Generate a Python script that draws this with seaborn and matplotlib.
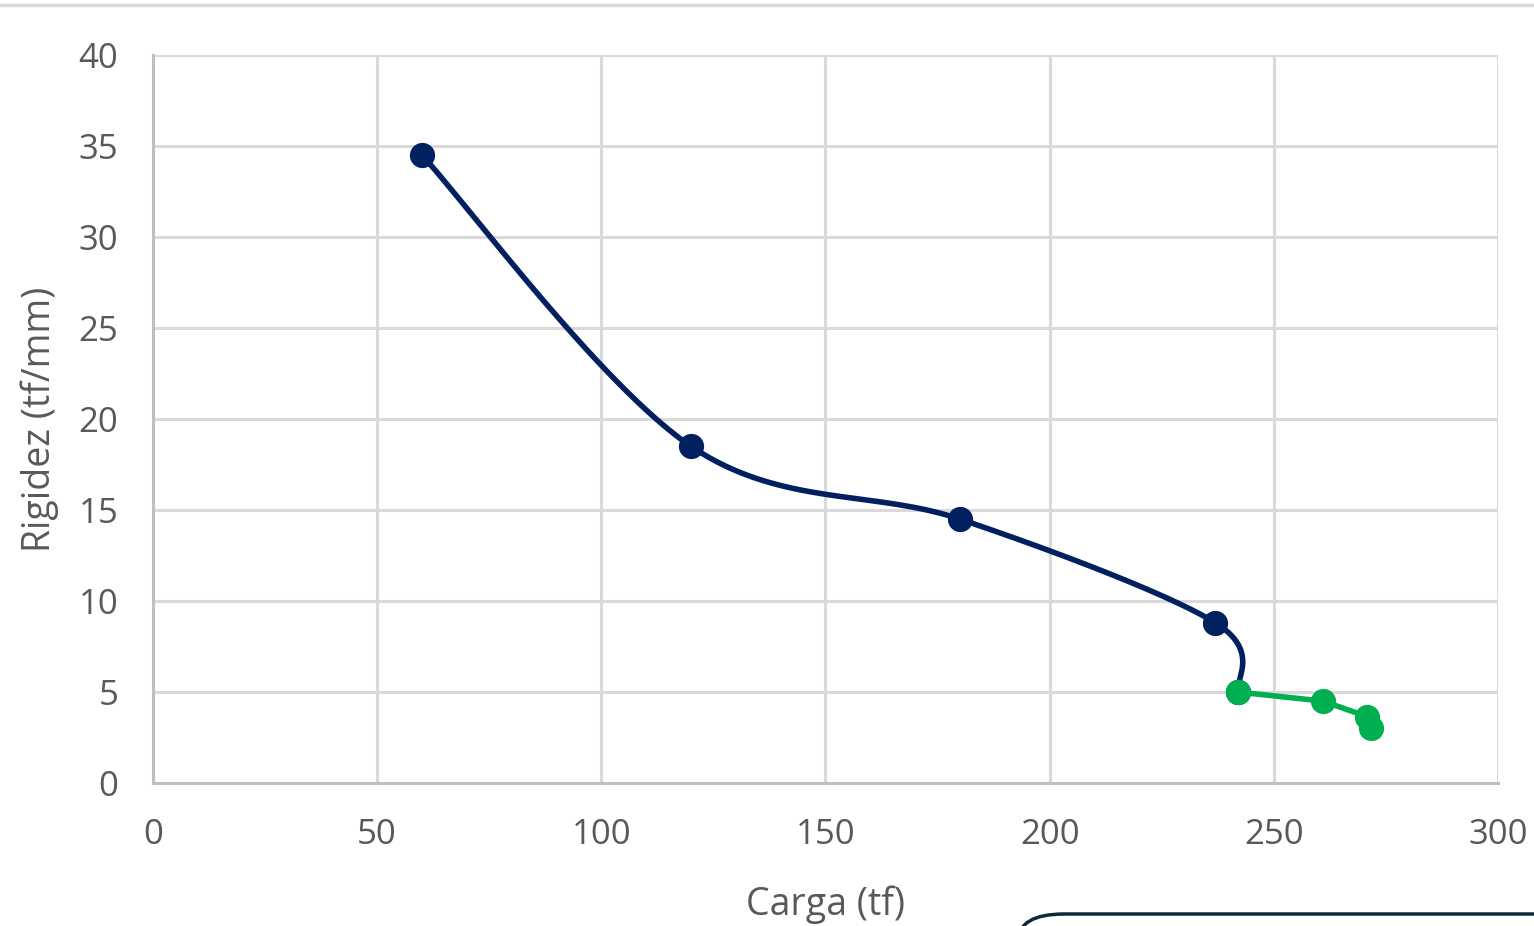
import numpy as np
import pandas as pd
import seaborn as sns
import matplotlib.pyplot as plt
from matplotlib.patches import FancyBboxPatch
from matplotlib.lines import Line2D

# data
carga_azul = [60, 120, 180, 237, 242]
rigidez_azul = [34.5, 18.5, 14.5, 8.8, 5.0]
carga_verde = [242, 261, 270.8, 271.7]
rigidez_verde = [5.0, 4.5, 3.65, 3.05]

x_ticks = [0, 50, 100, 150, 200, 250, 300]
y_ticks = [0, 5, 10, 15, 20, 25, 30, 35, 40]

azul = '#002060'
verde = '#00b050'
cinza = '#595959'


def suavizar(xs, ys, n=60):
    # excel-like smoothed line (bezier with catmull-rom control points)
    p = np.column_stack([xs, ys]).astype(float)
    p = np.vstack([p[0], p, p[-1]])
    out = []
    for i in range(1, len(p) - 2):
        p0, p1, p2, p3 = p[i - 1], p[i], p[i + 1], p[i + 2]
        c1 = p1 + (p2 - p0) / 6
        c2 = p2 - (p3 - p1) / 6
        t = np.linspace(0, 1, n)[:, None]
        seg = ((1 - t) ** 3) * p1 + 3 * ((1 - t) ** 2) * t * c1 + 3 * (1 - t) * t ** 2 * c2 + t ** 3 * p2
        out.append(seg if i == 1 else seg[1:])
    out = np.vstack(out)
    return out[:, 0], out[:, 1]


sns.set_theme(style='white')
plt.rcParams['font.family'] = ['Open Sans', 'DejaVu Sans']

fig = plt.figure(figsize=(15.34, 9.26), dpi=100)
ax = fig.add_axes([0.0997, 0.1544, 0.8768, 0.7862])

sx, sy = suavizar(carga_azul, rigidez_azul)
curva = pd.DataFrame({'x': sx, 'y': sy})
sns.lineplot(data=curva, x='x', y='y', sort=False, color=azul, linewidth=4, ax=ax, zorder=3)
sns.scatterplot(x=carga_azul, y=rigidez_azul, color=azul, s=330, edgecolor=azul, linewidth=0, ax=ax, zorder=4)

sns.lineplot(x=carga_verde, y=rigidez_verde, sort=False, color=verde, linewidth=4, ax=ax, zorder=3)
sns.scatterplot(x=carga_verde, y=rigidez_verde, color=verde, s=330, edgecolor=verde, linewidth=0, ax=ax, zorder=4)

ax.set_xlim(0, 300)
ax.set_ylim(0, 40)
ax.set_xticks(x_ticks)
ax.set_yticks(y_ticks)
ax.grid(True, color='#d9d9d9', linewidth=2.2)
ax.set_axisbelow(True)
for s in ['top', 'right']:
    ax.spines[s].set_visible(False)
for s in ['left', 'bottom']:
    ax.spines[s].set_color('#bfbfbf')
    ax.spines[s].set_linewidth(2.2)
ax.tick_params(axis='both', colors=cinza, labelsize=25, length=0)
ax.tick_params(axis='x', pad=25)
ax.tick_params(axis='y', pad=25)
ax.set_xlabel('Carga (tf)', fontsize=27, color=cinza, labelpad=24)
ax.set_ylabel('Rigidez (tf/mm)', fontsize=27, color=cinza, labelpad=14)

# thin gray line along the top edge
fig.add_artist(Line2D([0, 1], [0.9945, 0.9945], transform=fig.transFigure, color='#d9d9d9', linewidth=2.5))

# rounded box cut off at the bottom right
caixa = FancyBboxPatch((1018 / 1534, -0.1), 0.4, (926 - 914) / 926 + 0.1,
                       boxstyle='round,pad=0,rounding_size=0.03', transform=fig.transFigure,
                       facecolor='white', edgecolor='#0b2a3a', linewidth=2.5, clip_on=False)
fig.add_artist(caixa)

fig.savefig('out.png', dpi=100)
